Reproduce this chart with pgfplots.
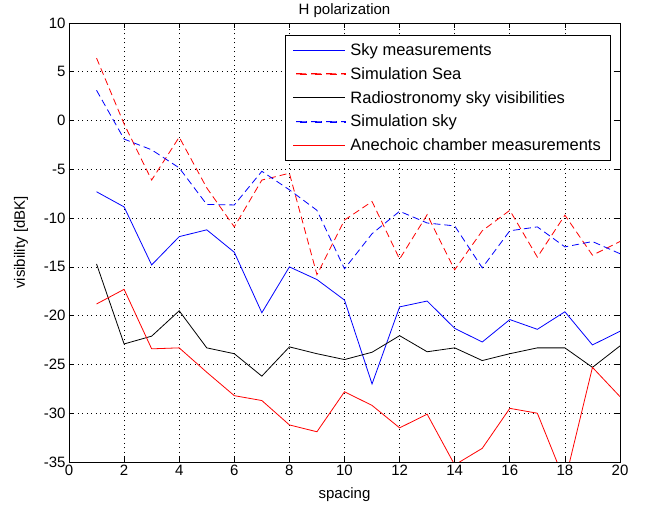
\documentclass[border=0pt]{standalone}
\usepackage{fontspec}
\setmainfont{Liberation Sans}
\usepackage{pgfplots}
\usepackage{pgfplotstable}
\pgfplotsset{compat=1.18}
\definecolor{mblue}{rgb}{0,0,1}
\definecolor{mred}{rgb}{1,0,0}
\definecolor{mblack}{rgb}{0,0,0}
\tikzset{mdash/.style={dash pattern=on 7bp off 4bp}}
% dashed legend samples as small filled bars, colour given as argument
\pgfplotsset{
    dashbars/.style={legend image code/.code={
        \fill[#1] (3bp,-0.45bp) rectangle (13bp,0.45bp)
            (18bp,-0.45bp) rectangle (28bp,0.45bp)
            (33bp,-0.45bp) rectangle (43bp,0.45bp)
            (48bp,-0.45bp) rectangle (52bp,0.45bp);
        \path (55bp,0bp);}},
}

% spacing, sky meas., sim. sea, radioastronomy, sim. sky, anechoic chamber
\pgfplotstableread{
x   skymeas simsea  radio   simsky  anech
1   -7.3    6.4     -14.7   3.1     -18.8
2   -8.85   -0.35   -22.9   -1.9    -17.3
3   -14.8   -6.1    -22.1   -3.0    -23.4
4   -11.9   -1.7    -19.5   -4.85   -23.3
5   -11.2   -6.9    -23.3   -8.6    -25.8
6   -13.5   -10.9   -23.9   -8.65   -28.2
7   -19.7   -6.1    -26.2   -5.2    -28.7
8   -15.0   -5.4    -23.2   -7.1    -31.2
9   -16.3   -15.8   -23.9   -9.2    -31.9
10  -18.4   -10.2   -24.5   -15.2   -27.8
11  -27.0   -8.3    -23.75  -11.6   -29.2
12  -19.1   -14.2   -22.05  -9.3    -31.5
13  -18.5   -9.65   -23.7   -10.5   -30.1
14  -21.3   -15.3   -23.3   -10.8   -35.3
15  -22.7   -11.3   -24.6   -15.1   -33.6
16  -20.4   -9.2    -23.9   -11.3   -29.5
17  -21.4   -14.0   -23.3   -10.9   -30.0
18  -19.6   -9.7    -23.3   -12.95  -37.0
19  -23.0   -13.8   -25.3   -12.4   -25.3
20  -21.6   -12.4   -23.1   -13.65  -28.3
}\datatable

\begin{document}
\begin{tikzpicture}[font=\fontsize{15bp}{18bp}\selectfont]
\begin{axis}[
    scale only axis,
    width=551bp,
    height=439bp,
    xmin=0, xmax=20,
    ymin=-35, ymax=10,
    xtick={0,2,...,20},
    ytick={-35,-30,...,10},
    tick align=inside,
    major tick length=5bp,
    tick style={black, line width=0.7bp},
    axis line style={black, line width=0.8bp},
    grid=major,
    major grid style={black, line width=0.7bp, dash pattern=on 1bp off 3.5bp},
    title={H polarization},
    title style={yshift=-4bp},
    xlabel={spacing},
    xlabel style={yshift=-5bp},
    ylabel={visibility [dBK]},
    ylabel style={yshift=9bp},
    /pgf/number format/assume math mode=true,
    legend style={at={(1,1)}, anchor=north east, xshift=-10bp, yshift=-12bp,
        font=\fontsize{16.5bp}{19bp}\selectfont, cells={anchor=west},
        row sep=6.5bp, inner xsep=7bp, inner ysep=6bp},
    legend image code/.code={\draw[#1] (0bp,0bp) -- (52bp,0bp); \path (55bp,0bp);},
    every axis plot/.append style={line width=0.8bp},
]
\addplot[color=mblue, draw=mblue, solid, no markers] table[x=x, y=skymeas] {\datatable};
\addlegendentry{Sky measurements}
\addplot[color=mred, draw=mred, mdash, no markers, dashbars=mred] table[x=x, y=simsea] {\datatable};
\addlegendentry{Simulation Sea}
\addplot[color=mblack, draw=mblack, solid, no markers] table[x=x, y=radio] {\datatable};
\addlegendentry{Radiostronomy sky visibilities}
\addplot[color=mblue, draw=mblue, mdash, no markers, dashbars=mblue] table[x=x, y=simsky] {\datatable};
\addlegendentry{Simulation sky}
\addplot[color=mred, draw=mred, solid, no markers] table[x=x, y=anech] {\datatable};
\addlegendentry{Anechoic chamber measurements}
\end{axis}
\pgfresetboundingbox
\path (-69bp,-48bp) rectangle (576bp,462bp);
\end{tikzpicture}
\end{document}
